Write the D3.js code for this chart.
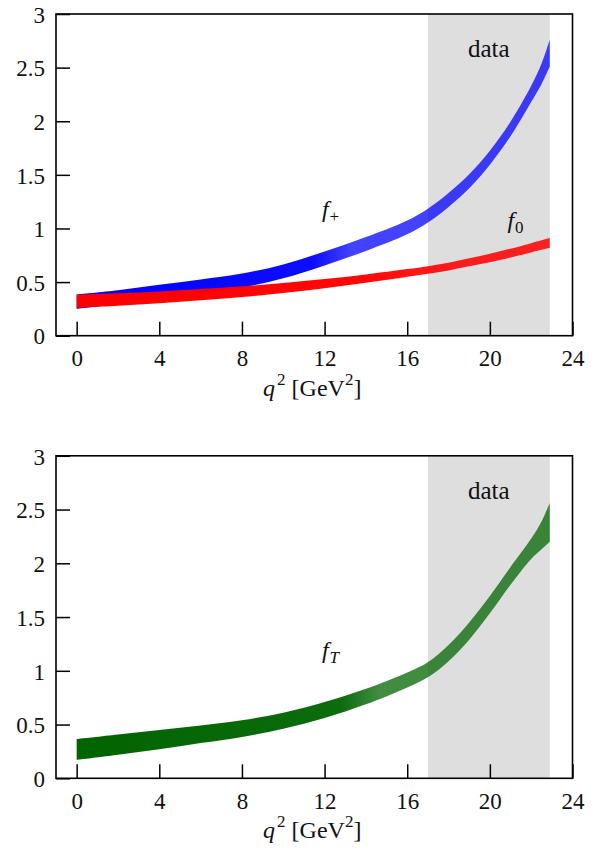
<!DOCTYPE html>
<html>
<head>
<meta charset="utf-8">
<script src="https://cdn.jsdelivr.net/npm/d3@7"></script>
<style>
  body { margin: 0; background: #fff; }
  svg text { font-family: "Liberation Serif", "Times New Roman", serif; fill: #111; }
</style>
</head>
<body>
<div class="canvas"></div>
<script>
// values
const q2 = [0, 2, 4, 6, 8, 10, 12, 14, 16, 17, 18, 19, 20, 21, 22, 22.5, 22.9];
const fPlusLo = [0.25, 0.295, 0.345, 0.395, 0.45, 0.535, 0.655, 0.79, 0.945, 1.055, 1.2, 1.375, 1.595, 1.86, 2.18, 2.345, 2.51];
const fPlusHi = [0.385, 0.425, 0.475, 0.525, 0.58, 0.665, 0.785, 0.92, 1.075, 1.185, 1.33, 1.505, 1.725, 1.995, 2.33, 2.535, 2.76];
const fZeroLo = [0.26, 0.28, 0.302, 0.33, 0.36, 0.399, 0.443, 0.493, 0.549, 0.578, 0.609, 0.647, 0.686, 0.729, 0.777, 0.801, 0.82];
const fZeroHi = [0.385, 0.397, 0.412, 0.435, 0.46, 0.491, 0.528, 0.571, 0.621, 0.648, 0.681, 0.722, 0.764, 0.811, 0.863, 0.889, 0.91];
const fTLo = [0.17, 0.218, 0.27, 0.328, 0.385, 0.46, 0.56, 0.688, 0.845, 0.94, 1.09, 1.29, 1.535, 1.8, 2.04, 2.13, 2.2];
const fTHi = [0.365, 0.408, 0.45, 0.492, 0.54, 0.61, 0.71, 0.833, 0.985, 1.08, 1.24, 1.45, 1.695, 1.965, 2.23, 2.39, 2.56];
const dataRegion = [17, 22.9];
const xTicks = [0, 4, 8, 12, 16, 20, 24];
const yTicks = [0, 0.5, 1, 1.5, 2, 2.5, 3];

const width = 600, height = 855;
const svg = d3.select('.canvas')
    .append('svg')
    .attr('width', width)
    .attr('height', height);

const defs = svg.append('defs');

const left = 56, right = 572.5;
const x = d3.scaleLinear().domain([-1, 24]).range([left, right]);

// gradient gives the dense (left) part a stronger colour like the original
function makeGradient(id, color, stops) {
    const g = defs.append('linearGradient')
        .attr('id', id)
        .attr('gradientUnits', 'userSpaceOnUse')
        .attr('x1', x(0)).attr('x2', x(22.9))
        .attr('y1', 0).attr('y2', 0);
    stops.forEach(s => {
        g.append('stop')
            .attr('offset', s[0])
            .attr('stop-color', color)
            .attr('stop-opacity', s[1]);
    });
}
makeGradient('gBlue', '#0000ff', [[0, 1], [0.5, 0.95], [0.58, 0.74], [1, 0.74]]);
makeGradient('gRed', '#ff0000', [[0, 1], [0.6, 0.97], [0.8, 0.88], [1, 0.85]]);
makeGradient('gGreen', '#006400', [[0, 1], [0.56, 0.95], [0.64, 0.74], [1, 0.74]]);

function drawPanel(top, bottom, bands, labels) {
    const y = d3.scaleLinear().domain([0, 3]).range([bottom, top]);
    const graph = svg.append('g');

    // shaded data region
    graph.append('rect')
        .attr('x', x(dataRegion[0]))
        .attr('y', top)
        .attr('width', x(dataRegion[1]) - x(dataRegion[0]))
        .attr('height', bottom - top)
        .attr('fill', '#dedede');

    graph.append('text')
        .attr('x', x(19.95))
        .attr('y', y(2.6))
        .attr('text-anchor', 'middle')
        .attr('font-size', 25)
        .text('data');

    bands.forEach(b => {
        const area = d3.area()
            .x((d, i) => x(q2[i]))
            .y0((d, i) => y(b.lo[i]))
            .y1((d, i) => y(b.hi[i]))
            .curve(d3.curveCatmullRom);
        graph.append('path')
            .datum(q2)
            .attr('d', area)
            .attr('fill', b.fill);
    });

    // axes with inward ticks
    const xAxis = d3.axisBottom(x).tickValues(xTicks).tickSize(-14).tickPadding(14)
        .tickFormat(d => d);
    const yAxis = d3.axisLeft(y).tickValues(yTicks).tickSize(-14).tickPadding(11)
        .tickFormat(d => d);

    const xg = graph.append('g')
        .attr('transform', `translate(0, ${bottom})`)
        .call(xAxis);
    const yg = graph.append('g')
        .attr('transform', `translate(${left}, 0)`)
        .call(yAxis);

    [xg, yg].forEach(g => {
        g.select('.domain').remove();
        g.attr('font-family', null);
        g.selectAll('line').attr('stroke', '#000').attr('stroke-width', 1.5);
        g.selectAll('text')
            .attr('font-size', 23)
            .attr('fill', '#111');
    });
    yg.selectAll('text').attr('dy', '0.36em');

    graph.append('rect')
        .attr('x', left).attr('y', top)
        .attr('width', right - left).attr('height', bottom - top)
        .attr('fill', 'none')
        .attr('stroke', '#000')
        .attr('stroke-width', 1.6);

    // axis title q^2 [GeV^2]
    const title = graph.append('text')
        .attr('x', (left + right) / 2 - 2)
        .attr('y', bottom + 60)
        .attr('text-anchor', 'middle')
        .attr('font-size', 24);
    title.append('tspan').attr('font-style', 'italic').text('q');
    title.append('tspan').attr('font-size', 17).attr('dy', -11).attr('dx', 2).text('2');
    title.append('tspan').attr('dy', 11).text(' [GeV');
    title.append('tspan').attr('font-size', 17).attr('dy', -11).text('2');
    title.append('tspan').attr('dy', 11).text(']');

    labels.forEach(l => {
        const t = graph.append('text')
            .attr('x', x(l.q))
            .attr('y', y(l.v))
            .attr('font-size', 24);
        t.append('tspan').attr('font-style', 'italic').text('f');
        t.append('tspan')
            .attr('font-size', 17)
            .attr('dy', 5)
            .attr('dx', 1)
            .attr('font-style', l.sub === 'T' ? 'italic' : 'normal')
            .text(l.sub);
    });
}

drawPanel(14, 335.7, [
    { lo: fPlusLo, hi: fPlusHi, fill: 'url(#gBlue)' },
    { lo: fZeroLo, hi: fZeroHi, fill: 'url(#gRed)' }
], [
    { q: 11.87, v: 1.11, sub: '+' },
    { q: 20.85, v: 1.0, sub: '0' }
]);

drawPanel(455.8, 778.3, [
    { lo: fTLo, hi: fTHi, fill: 'url(#gGreen)' }
], [
    { q: 11.87, v: 1.12, sub: 'T' }
]);
</script>
</body>
</html>
